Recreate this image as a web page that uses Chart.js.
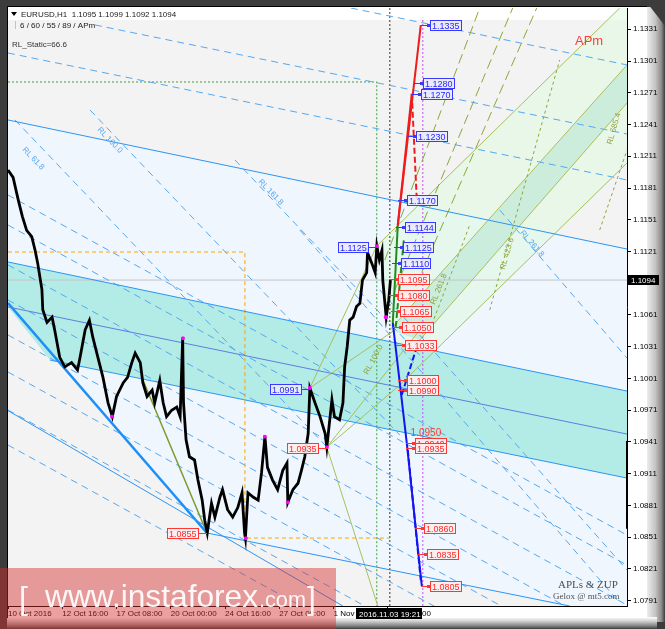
<!DOCTYPE html>
<html>
<head>
<meta charset="utf-8">
<script src="https://cdn.jsdelivr.net/npm/chart.js@4.4.0/dist/chart.umd.min.js"></script>
<style>
  html, body { margin: 0; padding: 0; background: #3c3c3c; }
  #wrap { width: 665px; height: 629px; }
</style>
</head>
<body>
<div id="wrap"><canvas id="chart" width="665" height="629"></canvas></div>
<script>
// x = H1 bar number counted from 10 Oct 2016 00:00, y = EURUSD price

// Axis ticks
const timeTicks = [0, 64, 128, 192, 256, 320, 384, 448];
const timeLabels = ['10 Oct 2016', '12 Oct 16:00', '17 Oct 08:00', '20 Oct 00:00', '24 Oct 16:00', '27 Oct 08:00', '1 Nov 00:00', '3 Nov 16:00'];
const priceTicks = [1.0791, 1.0821, 1.0851, 1.0881, 1.0911, 1.0941, 1.0971, 1.1001, 1.1031, 1.1061,
                    1.1091, 1.1121, 1.1151, 1.1181, 1.1211, 1.1241, 1.1271, 1.1301, 1.1331];

// Price path
const priceBars = [0, 6, 12, 17, 22, 28, 32, 35, 40, 41, 46, 52, 55, 61, 67, 75, 82, 85, 91, 96, 100, 106, 112, 118, 123,
  128, 136, 141, 146, 150, 156, 159, 164, 170, 173, 179, 183, 187, 193, 199, 203, 206, 207, 210, 214, 220, 224, 229,
  232, 235, 238, 240, 244, 250, 253, 259, 265, 271, 276, 279, 280, 283, 289, 295, 299, 303, 306, 312, 318, 324, 329,
  330, 336, 342, 346, 350, 354, 356, 362, 368, 374, 376, 382, 385, 391, 395, 397, 400, 403, 407, 411, 415, 418, 423,
  424, 429, 433, 435, 438, 441, 442, 446, 449, 451];
const priceClose = [1.1198, 1.1191, 1.1170, 1.1154, 1.1141, 1.1135, 1.1122, 1.1110, 1.1085, 1.1066, 1.1054, 1.1059,
  1.1047, 1.1021, 1.1012, 1.1016, 1.1009, 1.1021, 1.1047, 1.1056, 1.1040, 1.1021, 1.1002, 1.0978, 1.0965, 1.0984,
  1.0997, 1.1002, 1.1016, 1.1025, 1.1016, 1.0997, 1.0984, 1.0990, 1.0978, 1.0999, 1.0978, 1.0965, 1.0971, 1.0974,
  1.0965, 1.1039, 1.0978, 1.0943, 1.0927, 1.0924, 1.0905, 1.0886, 1.0867, 1.0855, 1.0872, 1.0883, 1.0870, 1.0889,
  1.0896, 1.0877, 1.0870, 1.0879, 1.0893, 1.0855, 1.0850, 1.0893, 1.0889, 1.0886, 1.0912, 1.0946, 1.0917, 1.0905,
  1.0896, 1.0914, 1.0921, 1.0884, 1.0896, 1.0902, 1.0914, 1.0927, 1.0949, 1.0992, 1.0978, 1.0965, 1.0949, 1.0936,
  1.0981, 1.0965, 1.0962, 1.0978, 1.1012, 1.1031, 1.1056, 1.1059, 1.1069, 1.1072, 1.1094, 1.1101, 1.1120, 1.1110,
  1.1101, 1.1126, 1.1113, 1.1122, 1.1094, 1.1059, 1.1075, 1.1094];
const swingPoints = [[122.6, 1.0965], [206.3, 1.1039], [280.5, 1.0850], [302.9, 1.0946], [330.0, 1.0884],
  [356.0, 1.0992], [376.0, 1.0936], [434.9, 1.1126], [445.6, 1.1059]];
const lastPrice = 1.1094;

// Channel lines (solid blue)
const railLines = [
  [[0, 1.12453], [730, 1.11233]],
  [[0, 1.11111], [730, 1.09891]],
  [[49.5, 1.10184], [730, 1.09069]],
  [[234.6, 1.0855], [662.4, 1.0786]],
  [[0, 1.09706], [394.9, 1.0786]]
];
const railMid = [[0, 1.10686], [730, 1.09485]];
const railThick = [[0, 1.10723], [234.6, 1.0855]];

// Reaction lines (dashed blue)
const reactionLines = [
  [[404.3, 1.13511], [730, 1.12973]],
  [[102.5, 1.13351], [730, 1.12320]],
  [[0, 1.13086], [730, 1.11886]],
  [[8.3, 1.12453], [379.5, 1.09334]],
  [[96.7, 1.12547], [462.1, 1.09475]],
  [[267.6, 1.12075], [485.6, 1.10231]],
  [[579.9, 1.11602], [730, 1.10203]],
  [[344.2, 1.11413], [721.4, 1.07888]],
  [[438.5, 1.10846], [730, 1.08200]],
  [[0, 1.11744], [730, 1.08530]],
  [[0, 1.11460], [730, 1.08246]],
  [[0, 1.11083], [730, 1.07869]],
  [[0, 1.10752], [730, 1.07538]],
  [[0, 1.10421], [730, 1.07207]],
  [[0, 1.10071], [730, 1.06857]],
  [[0, 1.09712], [730, 1.06498]],
  [[0, 1.09381], [730, 1.06167]]
];

// Fork lines (olive)
const forkLines = [
  [[450.3, 1.10468], [730, 1.12973]],
  [[485.6, 1.10374], [730, 1.12613]],
  [[434.9, 1.11262], [721.4, 1.13511]],
  [[356.0, 1.0992], [434.9, 1.11262]],
  [[462.1, 1.09948], [730, 1.12046]],
  [[376.0, 1.0936], [436.1, 1.0786]],
  [[376.0, 1.0936], [485.6, 1.10468]],
  [[376.0, 1.0936], [462.1, 1.09948]],
  [[356.0, 1.0992], [456.2, 1.10468]]
];
const forkBase = [[234.6, 1.0855], [159.1, 1.09995]];
const forkDashed = [
  [[456.2, 1.10846], [595.2, 1.13511]],
  [[473.8, 1.10752], [623.5, 1.13511]],
  [[444.4, 1.11129], [556.3, 1.13511]]
];
const forkDotted = [
  [[568.1, 1.10657], [650.6, 1.13020]],
  [[697.8, 1.11413], [730, 1.12168]],
  [[497.4, 1.10468], [544.5, 1.11460]]
];

// Projection (APm)
const projUp = [[[459.7, 1.11460], [486.8, 1.1335]], [[459.7, 1.11460], [476.2, 1.1270]]];
const projUpDash = [[[476.2, 1.1270], [482.1, 1.11697]]];
const projMid = [[453.8, 1.10535], [459.7, 1.11460]];
const projMidDash = [[457.3, 1.10497], [466.8, 1.11318]];
const projDown = [[453.8, 1.10535], [470.3, 1.0940], [488.0, 1.0805]];
const projDownDash = [[[464.4, 1.09856], [480.9, 1.10279]], [[471.5, 1.09334], [486.8, 1.08105]]];

// Guides
const orangeBox = [[0, 1.11205], [279.4, 1.11205], [279.4, 1.08502], [450.3, 1.08502]];
const greenBox = [[0, 1.12812], [434.9, 1.12812], [434.9, 1.0786]];
const crossBar = 450.3;
const futureBar = 489.2;

// Shaded zones
const blueZone = [[0, 1.12453], [730, 1.11233], [730, 1.0786], [662.4, 1.0786], [234.6, 1.0855], [0, 1.10723]];
const bandZone = [[0, 1.11111], [730, 1.09891], [730, 1.09069], [49.5, 1.10184], [0, 1.10686]];
const greenZone = [[434.9, 1.11262], [721.4, 1.13511], [730, 1.13511], [730, 1.12046], [462.1, 1.09948]];
const tealZone = [[450.3, 1.10468], [730, 1.12973], [730, 1.12613], [485.6, 1.10374]];

// Level tags: [price, bar of box left]
const tagsUp = [[1.1335, 497.4], [1.1280, 489.2], [1.1270, 486.8], [1.1230, 480.9], [1.1170, 470.3],
  [1.1144, 467.9], [1.1125, 465.6], [1.1110, 463.2]];
const tagsDown = [[1.1095, 459.7], [1.1080, 459.7], [1.1065, 462.1], [1.1050, 464.4], [1.1033, 467.9],
  [1.1000, 470.3], [1.0990, 470.3], [1.0940, 479.7], [1.0935, 479.7], [1.0860, 490.3], [1.0835, 493.9], [1.0805, 497.4]];
// Swing tags: [price, bar of swing point, kind]
const swingTags = [[1.1125, 434.9, 'hi'], [1.0991, 356.0, 'hi'], [1.0855, 234.6, 'lo'], [1.0935, 376.0, 'lo']];
const plainLevel = [1.0950, 474.8];
const rlNotes = [
  [16.5, 1.12169, 'RL 61.8', 46, 'b'], [104.9, 1.12358, 'RL 100.0', 46, 'b'],
  [294.7, 1.11867, 'RL 161.8', 46, 'b'], [603.5, 1.11385, 'RL 261.8', 49, 'b'],
  [711.9, 1.12216, 'RL 685.4', -74, 'g'], [585.8, 1.11035, 'RL 423.6', -74, 'g'],
  [503.3, 1.10704, 'RL 261.8', -68, 'g'], [424.3, 1.10044, 'RL 100.0', -62, 'g']
];
const volMark = [1.0859, 1.0942];

Chart.defaults.font.family = '"Liberation Sans", Arial, sans-serif';
Chart.defaults.font.size = 8;

const pts = seg => seg.map(p => ({ x: p[0], y: p[1] }));
const datasets = [];
function addLines(list, style, order) {
  list.forEach(seg => datasets.push(Object.assign({
    data: pts(seg), order: order, pointRadius: 0, fill: false, borderWidth: 1, tension: 0
  }, style)));
}

// draw order: higher order = further back
addLines([orangeBox], { borderColor: '#ffa500', borderDash: [4, 3] }, 9);
addLines([greenBox], { borderColor: '#3fa03f', borderDash: [2, 2] }, 9);
addLines([[[crossBar, 1.0786], [crossBar, 1.13511]]], { borderColor: '#333333', borderDash: [2, 2] }, 9);
addLines([[[futureBar, 1.0786], [futureBar, 1.1342]]], { borderColor: '#c84cf0', borderDash: [2, 2] }, 9);
addLines([[[0, lastPrice], [730, lastPrice]]], { borderColor: '#c4c4c4' }, 9);
addLines(reactionLines, { borderColor: '#55a8f2', borderDash: [7, 5] }, 8);
addLines(forkDashed, { borderColor: '#8aa83a', borderDash: [10, 5] }, 7);
addLines(forkDotted, { borderColor: '#8aa83a', borderDash: [3, 3] }, 7);
addLines(forkLines, { borderColor: '#a8bf5c' }, 7);
addLines([forkBase], { borderColor: '#7d9a2a', borderWidth: 1.5 }, 7);
addLines(railLines, { borderColor: '#2b95f5' }, 6);
addLines([railMid], { borderColor: '#5a80e0' }, 6);
addLines([railThick], { borderColor: '#1e8ff5', borderWidth: 2.5 }, 6);
datasets.push({
  data: priceBars.map((b, i) => ({ x: b, y: priceClose[i] })),
  borderColor: '#000000', borderWidth: 2.8, pointRadius: 0, fill: false, tension: 0, order: 3
});
addLines(projUp, { borderColor: '#ee1c1c', borderWidth: 2 }, 2);
addLines(projUpDash, { borderColor: '#ee1c1c', borderWidth: 2, borderDash: [6, 3] }, 2);
addLines([projMid], { borderColor: '#1e8c1e', borderWidth: 2 }, 2);
addLines([projMidDash], { borderColor: '#1e8c1e', borderWidth: 2, borderDash: [6, 3] }, 2);
addLines([projDown], { borderColor: '#1414f0', borderWidth: 2 }, 2);
addLines(projDownDash, { borderColor: '#1414f0', borderWidth: 2, borderDash: [6, 3] }, 2);
datasets.push({
  data: pts(swingPoints), showLine: false, pointStyle: 'rect', pointRadius: 1.8,
  pointBackgroundColor: '#ff00ff', pointBorderColor: '#ff00ff', order: 1
});

// Frame of the terminal window
const framePlugin = {
  id: 'frame',
  beforeDraw(chart) {
    const ctx = chart.ctx;
    ctx.save();
    ctx.fillStyle = '#3c3c3c';
    ctx.fillRect(0, 0, 665, 629);
    let g = ctx.createLinearGradient(641, 0, 665, 0);
    g.addColorStop(0, '#ffffff');
    g.addColorStop(0.25, '#ececec');
    g.addColorStop(0.6, '#c4c4c4');
    g.addColorStop(0.85, '#8c8c8c');
    g.addColorStop(1, '#3c3c3c');
    ctx.fillStyle = g;
    ctx.fillRect(641, 7, 24, 615);
    g = ctx.createLinearGradient(0, 617, 0, 629);
    g.addColorStop(0, '#ffffff');
    g.addColorStop(0.35, '#d0d0d0');
    g.addColorStop(0.75, '#808080');
    g.addColorStop(1, '#3c3c3c');
    ctx.fillStyle = g;
    ctx.fillRect(7, 617, 650, 12);
    ctx.fillStyle = '#ffffff';
    ctx.fillRect(7, 7, 640, 611);
    ctx.fillStyle = '#3c3c3c';
    ctx.beginPath();
    ctx.moveTo(645, 0); ctx.lineTo(665, 0); ctx.lineTo(665, 26);
    ctx.closePath(); ctx.fill();
    ctx.fillStyle = '#000';
    ctx.fillRect(7, 6, 640, 1);
    ctx.fillRect(7, 6, 1, 612);
    ctx.restore();
  },
  beforeDatasetsDraw(chart) {
    const { ctx, chartArea: a, scales: { x, y } } = chart;
    const poly = (list, color) => {
      ctx.beginPath();
      list.forEach((p, i) => {
        const X = x.getPixelForValue(p[0]), Y = y.getPixelForValue(p[1]);
        if (i) ctx.lineTo(X, Y); else ctx.moveTo(X, Y);
      });
      ctx.closePath();
      ctx.fillStyle = color;
      ctx.fill();
    };
    ctx.save();
    ctx.beginPath();
    ctx.rect(a.left, a.top, a.right - a.left, a.bottom - a.top);
    ctx.clip();
    ctx.fillStyle = '#ffffff';
    ctx.fillRect(a.left, a.top, a.right - a.left, a.bottom - a.top);
    ctx.fillStyle = '#f3f3f3';
    ctx.fillRect(a.left, a.top + 12, a.right - a.left, a.bottom - a.top - 12);
    poly(blueZone, '#eff6fe');
    poly(greenZone, 'rgba(222,250,222,0.55)');
    poly(tealZone, 'rgba(170,225,205,0.45)');
    poly(bandZone, '#b3ebe7');
    ctx.restore();
  }
};

function drawTag(ctx, X, Y, text, kind, side) {
  const c = kind === 'up'
    ? { line: '#3a3aff', bg: 'rgba(234,234,255,0.92)', txt: '#2828ff' }
    : { line: '#ff3636', bg: 'rgba(255,238,238,0.92)', txt: '#ff2a2a' };
  ctx.font = '9px "Liberation Sans", Arial, sans-serif';
  const w = Math.round(ctx.measureText(text).width) + 4;
  const bx = side === 'right' ? Math.round(X) : Math.round(X) - 8 - w;
  const by = Math.round(Y) - 5;
  ctx.strokeStyle = c.line;
  ctx.lineWidth = 1;
  ctx.beginPath();
  if (side === 'right') { ctx.moveTo(bx - 9, by + 5.5); ctx.lineTo(bx, by + 5.5); }
  else { ctx.moveTo(bx + w, by + 5.5); ctx.lineTo(bx + w + 8, by + 5.5); }
  ctx.stroke();
  ctx.fillStyle = c.bg;
  ctx.fillRect(bx, by, w, 11);
  ctx.strokeRect(bx + 0.5, by + 0.5, w - 1, 10);
  ctx.fillStyle = c.line;
  if (side === 'right') ctx.fillRect(bx - 3, by + 4, 3, 3);
  ctx.fillStyle = c.txt;
  ctx.textBaseline = 'alphabetic';
  ctx.textAlign = 'left';
  ctx.fillText(text, bx + 2, by + 9);
}

const tagPlugin = {
  id: 'tags',
  afterDatasetsDraw(chart) {
    const { ctx, chartArea: a, scales: { x, y } } = chart;
    ctx.save();
    ctx.beginPath();
    ctx.rect(a.left, a.top, a.right - a.left, a.bottom - a.top);
    ctx.clip();

    // rotated RL notes
    ctx.font = '8px "Liberation Sans", Arial, sans-serif';
    rlNotes.forEach(n => {
      ctx.save();
      ctx.translate(x.getPixelForValue(n[0]), y.getPixelForValue(n[1]));
      ctx.rotate(n[3] * Math.PI / 180);
      ctx.fillStyle = n[4] === 'b' ? '#5aa6ee' : '#8ea23a';
      ctx.fillText(n[2], 0, 0);
      ctx.restore();
    });

    tagsUp.forEach(t => drawTag(ctx, x.getPixelForValue(t[1]), y.getPixelForValue(t[0]), t[0].toFixed(4), 'up', 'right'));
    tagsDown.forEach(t => drawTag(ctx, x.getPixelForValue(t[1]), y.getPixelForValue(t[0]), t[0].toFixed(4), 'down', 'right'));
    swingTags.forEach(t => drawTag(ctx, x.getPixelForValue(t[1]), y.getPixelForValue(t[0]), t[0].toFixed(4), t[2] === 'hi' ? 'up' : 'down', 'left'));
    ctx.font = '10px "Liberation Sans", Arial, sans-serif';
    ctx.fillStyle = '#ff3a3a';
    ctx.fillText(plainLevel[0].toFixed(4), x.getPixelForValue(plainLevel[1]), y.getPixelForValue(plainLevel[0]) + 4);

    // header
    ctx.fillStyle = '#000';
    ctx.beginPath();
    ctx.moveTo(11, 12); ctx.lineTo(17, 12); ctx.lineTo(14, 16); ctx.closePath(); ctx.fill();
    ctx.font = '8px "Liberation Sans", Arial, sans-serif';
    ctx.fillStyle = '#1a1a1a';
    ctx.fillText('EURUSD,H1  1.1095 1.1099 1.1092 1.1094', 21, 17);
    ctx.fillText('6 / 60 / 55 / 89 / APm', 20, 28);
    ctx.fillStyle = '#e0c860';
    ctx.fillRect(15, 21, 1, 8);
    ctx.fillStyle = '#333';
    ctx.fillText('RL_Static=66.6', 12, 47);

    ctx.font = '13px "Liberation Sans", Arial, sans-serif';
    ctx.fillStyle = '#ff3b3b';
    ctx.fillText('APm', 575, 45);

    ctx.fillStyle = '#505050';
    ctx.font = '11px "Liberation Serif", serif';
    ctx.fillText('APLs & ZUP', 558, 588);
    ctx.font = '9px "Liberation Serif", serif';
    ctx.fillText('Gelox @ mt5.com', 553, 599);
    ctx.restore();
  },
  afterDraw(chart) {
    const { ctx, chartArea: a, scales: { x, y } } = chart;
    ctx.save();
    // volume marker on price scale
    const v1 = y.getPixelForValue(volMark[1]), v0 = y.getPixelForValue(volMark[0]);
    ctx.fillStyle = '#000';
    ctx.fillRect(a.right - 1, v1, 2, v0 - v1);

    // crosshair readouts
    ctx.font = '8px "Liberation Sans", Arial, sans-serif';
    const py = Math.round(y.getPixelForValue(lastPrice));
    ctx.fillStyle = '#000';
    ctx.fillRect(a.right + 1, py - 5, 31, 10);
    ctx.fillStyle = '#fff';
    ctx.fillText(lastPrice.toFixed(4), a.right + 4, py + 3);
    const cx = Math.round(x.getPixelForValue(crossBar));
    ctx.fillStyle = '#000';
    ctx.fillRect(cx - 34, a.bottom + 2, 66, 11);
    ctx.fillStyle = '#fff';
    ctx.fillText('2016.11.03 19:21', cx - 31, a.bottom + 11);

    // watermark
    ctx.fillStyle = 'rgba(215,45,45,0.45)';
    ctx.fillRect(0, 568, 336, 61);
    ctx.fillStyle = 'rgba(255,255,255,0.92)';
    ctx.font = '30px "Liberation Sans", Arial, sans-serif';
    const fit = (t, w) => 30 * w / ctx.measureText(t).width;
    const s1 = fit('www.instaforex', 213);
    ctx.font = s1.toFixed(1) + 'px "Liberation Sans", Arial, sans-serif';
    ctx.fillText('www.instaforex', 45, 607);
    ctx.font = '30px "Liberation Sans", Arial, sans-serif';
    const s2 = fit('.com', 47);
    ctx.font = s2.toFixed(1) + 'px "Liberation Sans", Arial, sans-serif';
    ctx.fillText('.com', 259, 607);
    ctx.font = '32px "Liberation Sans", Arial, sans-serif';
    ctx.fillText('[', 19, 609);
    ctx.fillText(']', 307, 609);
    ctx.restore();
  }
};

new Chart(document.getElementById('chart'), {
  type: 'line',
  data: { datasets },
  options: {
    responsive: false,
    animation: false,
    events: [],
    layout: { padding: { left: 8, top: 8, right: 0, bottom: 9 } },
    plugins: { legend: { display: false }, tooltip: { enabled: false } },
    scales: {
      x: {
        type: 'linear', min: 0, max: 730, position: 'bottom',
        afterBuildTicks: axis => { axis.ticks = timeTicks.map(v => ({ value: v })); },
        afterFit: axis => { axis.height = 14; },
        ticks: { autoSkip: false, maxRotation: 0, align: 'start', padding: 0, color: '#000',
                 callback: (v, i) => timeLabels[i] },
        grid: { drawOnChartArea: false, tickLength: 3, color: '#000' },
        border: { color: '#000' }
      },
      y: {
        type: 'linear', min: 1.0786, max: 1.13511, position: 'right',
        afterBuildTicks: axis => { axis.ticks = priceTicks.map(v => ({ value: v })); },
        afterFit: axis => { axis.width = 38; },
        ticks: { padding: 2, color: '#000', callback: v => v.toFixed(4) },
        grid: { drawOnChartArea: false, tickLength: 4, color: '#000' },
        border: { color: '#000' }
      }
    }
  },
  plugins: [framePlugin, tagPlugin]
});
</script>
</body>
</html>
